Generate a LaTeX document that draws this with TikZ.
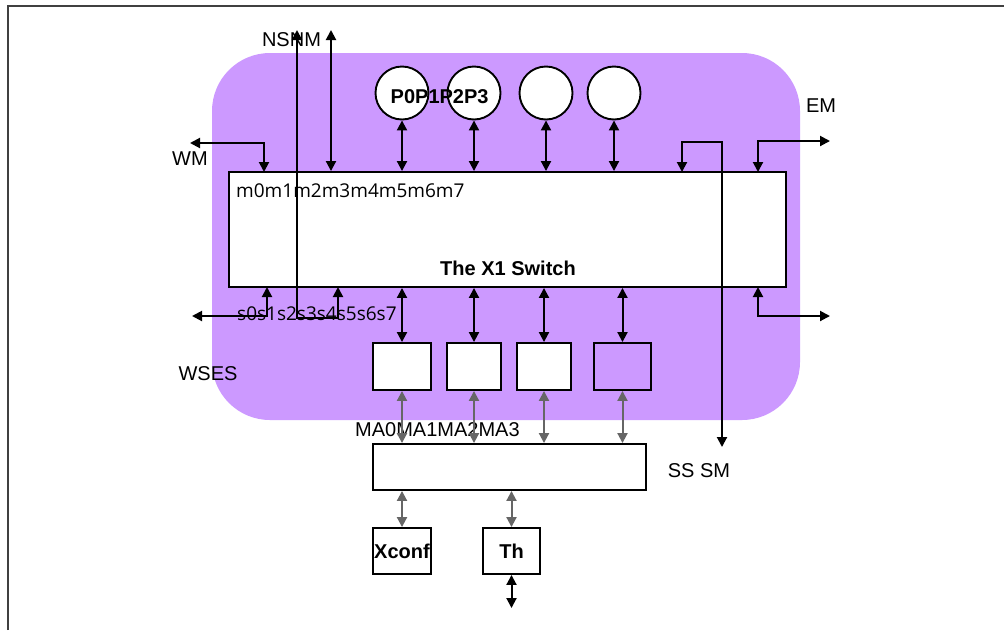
\documentclass[tikz,border=0pt]{standalone}
\usepackage{fontspec}
\setmainfont{Liberation Sans}
\newfontfamily\osans{Open Sans}
\usetikzlibrary{arrows.meta}
\definecolor{purp}{HTML}{CC99FF}
\definecolor{gline}{HTML}{666666}
\begin{document}
\begin{tikzpicture}[x=1pt,y=-1pt,
  lbl/.style={font=\fontsize{20}{24}\selectfont, inner sep=0pt},
  bl/.style={font=\bfseries\fontsize{20}{24}\selectfont, inner sep=0pt},
  ol/.style={font=\osans\fontsize{19}{23}\selectfont, inner sep=0pt},
  box/.style={draw=black, line width=1.9pt, fill=white, inner sep=0pt},
  hollow/.style={draw=black, line width=1.9pt, inner sep=0pt},
  port/.style={circle, draw=black, line width=1.9pt, fill=white, minimum size=53pt, inner sep=0pt},
  conn/.style={line width=2pt, draw=black, {Triangle[length=10pt,width=10pt]}-{Triangle[length=10pt,width=10pt]}},
  gconn/.style={line width=2pt, draw=gline, {Triangle[length=10pt,width=10pt]}-{Triangle[length=10pt,width=10pt]}}]
\useasboundingbox (0,0) rectangle (1004,630);
\fill[white] (0,0) rectangle (1004,630);
% frame
\draw[line width=2pt, black!75] (8,630) -- (8,6) -- (1004,6);
% chip background
\node[fill=purp, rounded corners=58pt, minimum width=588pt, minimum height=367pt, inner sep=0pt] (chip) at (506,236.5) {};
% switch
\node[box, minimum width=557pt, minimum height=115pt] (sw) at (507.5,229.5) {};
\node[bl] (swlabel) at (508,268) {The X1 Switch};
\node[ol, anchor=base west] (mlabel) at (236,197) {m0m1m2m3m4m5m6m7};
% circles
\node[port] (c0) at (402,93) {};
\node[port] (c1) at (474,93) {};
\node[port] (c2) at (546,93) {};
\node[port] (c3) at (614,93) {};
\node[bl, anchor=west] (plabel) at (390.5,96.5) {P0P1P2P3};
\foreach \c in {c0,c1,c2,c3} \draw[conn] (\c) -- (\c |- sw.north);
% small boxes
\node[box, minimum width=58pt, minimum height=47pt] (b0) at (402,366.5) {};
\node[box, minimum width=54pt, minimum height=47pt] (b1) at (474,366.5) {};
\node[box, minimum width=54pt, minimum height=47pt] (b2) at (544,366.5) {};
\node[hollow, minimum width=57pt, minimum height=47pt] (b3) at (622.5,366.5) {};
\foreach \b in {b0,b1,b2,b3} \draw[conn] (\b.north |- sw.south) -- (\b.north);
% MA box
\node[box, minimum width=273pt, minimum height=46pt] (ma) at (509.5,467) {};
\node[lbl, anchor=west] (malabel) at (355,430) {MA0MA1MA2MA3};
\foreach \b in {b0,b1,b2,b3} \draw[gconn] (\b.south) -- (\b.south |- ma.north);
% Xconf and Th
\node[box, minimum width=58pt, minimum height=46pt, font=\bfseries\fontsize{20}{24}\selectfont] (xc) at (402,551) {Xconf};
\node[box, minimum width=57pt, minimum height=46pt, font=\bfseries\fontsize{20}{24}\selectfont] (th) at (511.5,551) {Th};
\draw[gconn] (xc.north |- ma.south) -- (xc.north);
\draw[gconn] (th.north |- ma.south) -- (th.north);
\coordinate (thout) at (511.5,608);
\draw[conn] (th.south) -- (thout);
% NSNM
\node[lbl] (nsnm) at (291.5,40) {NSNM};
\coordinate (nsTop) at (297,30);
\coordinate (nsBend) at (338,318);
\coordinate (pS4) at (338,287);
\draw[conn] (nsTop) |- (nsBend) -- (pS4);
\coordinate (nmTop) at (331,30);
\draw[conn] (nmTop) -- (nmTop |- sw.north);
% WM
\node[lbl] (wm) at (190,159) {WM};
\coordinate (wmEnd) at (190,143);
\coordinate (pWM) at (264,172);
\draw[conn] (wmEnd) -| (pWM);
% s ports / WSES
\node[ol, anchor=base west] (slabel) at (237,320.5) {s0s1s2s3s4s5s6s7};
\node[lbl] (wses) at (208,374) {WSES};
\coordinate (sEnd) at (192,316);
\coordinate (pS0) at (267,287);
\draw[conn] (sEnd) -| (pS0);
% EM
\node[lbl] (em) at (821,106) {EM};
\coordinate (emEnd) at (830,141);
\coordinate (pE) at (758,172);
\draw[conn] (emEnd) -| (pE);
% SS SM
\node[lbl] (sssm) at (699,471) {SS SM};
\coordinate (pSS) at (682,172);
\coordinate (ssTop) at (722,142);
\coordinate (ssEnd) at (722,447);
\draw[conn] (pSS) |- (ssTop) -- (ssEnd);
% bottom right
\coordinate (pBR) at (758,287);
\coordinate (brEnd) at (830,316);
\draw[conn] (pBR) |- (brEnd);
\end{tikzpicture}
\end{document}
